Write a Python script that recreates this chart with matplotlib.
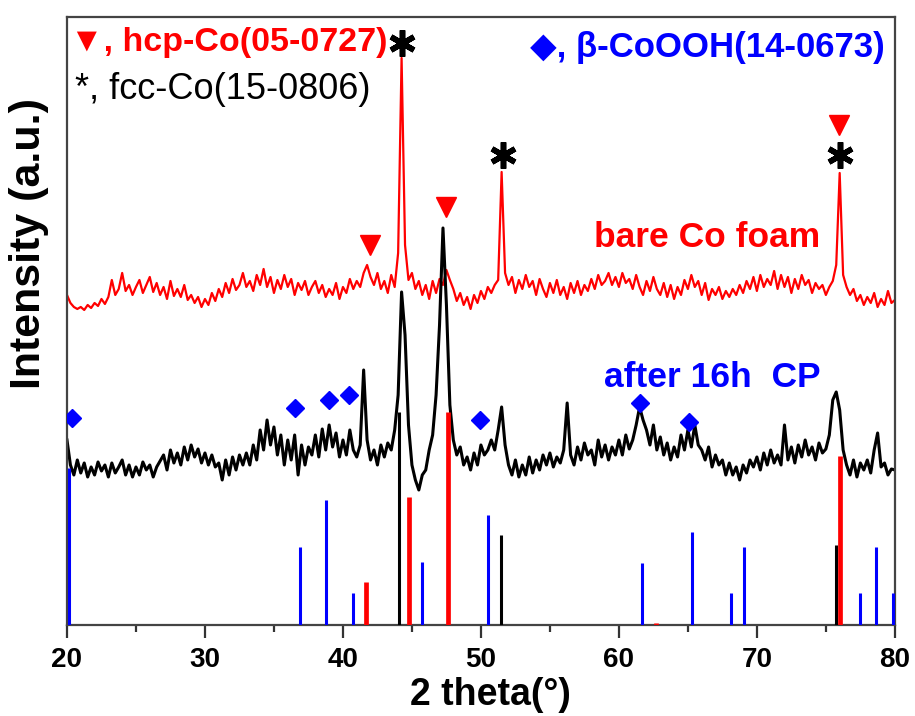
import matplotlib
matplotlib.use('Agg')
import numpy as np
import matplotlib.pyplot as plt

# 2 theta grid of the scans (0.25 deg steps, 20..80)
two_theta = np.arange(20, 80.001, 0.25)

# bare Co foam scan
bare_co = [
    330, 322, 318, 316, 318, 315, 320, 317, 322, 319, 326, 321,
    328, 345, 330, 336, 352, 334, 340, 330, 338, 345, 332, 340,
    348, 333, 342, 330, 338, 326, 344, 329, 336, 328, 340, 325,
    330, 322, 328, 318, 326, 320, 332, 324, 336, 328, 342, 332,
    346, 335, 340, 352, 338, 344, 334, 350, 340, 356, 338, 348,
    332, 345, 336, 350, 338, 346, 330, 342, 335, 344, 330, 338,
    344, 332, 340, 328, 336, 330, 342, 326, 338, 332, 346, 336,
    344, 338, 352, 360, 348, 340, 352, 336, 344, 332, 350, 338,
    372, 567, 380, 345, 352, 336, 344, 330, 340, 326, 344, 332,
    346, 340, 355, 345, 336, 324, 332, 320, 328, 316, 330, 322,
    334, 326, 338, 332, 340, 345, 453, 352, 340, 348, 332, 345,
    336, 350, 338, 344, 330, 346, 336, 328, 342, 332, 345, 330,
    338, 326, 342, 332, 344, 330, 340, 334, 346, 336, 350, 340,
    344, 352, 340, 348, 338, 352, 342, 346, 336, 350, 338, 330,
    344, 334, 348, 336, 330, 342, 328, 340, 326, 338, 330, 345,
    336, 350, 338, 344, 330, 342, 325, 336, 330, 338, 326, 334,
    328, 336, 330, 340, 332, 344, 336, 348, 334, 350, 338, 346,
    340, 354, 336, 350, 338, 348, 332, 346, 336, 350, 340, 345,
    332, 342, 336, 340, 330, 338, 344, 360, 452, 350, 338, 330,
    336, 324, 330, 320, 328, 322, 332, 318, 326, 320, 334, 322,
    325,
]

# after 16h CP scan
after_cp = [
    185, 160, 150, 165, 152, 162, 148, 158, 150, 163, 154, 160,
    148, 162, 152, 158, 165, 150, 160, 148, 158, 150, 163, 155,
    160, 148, 158, 164, 170, 155, 175, 162, 172, 160, 178, 165,
    180, 168, 176, 162, 172, 160, 170, 158, 162, 145, 165, 150,
    168, 155, 170, 160, 172, 160, 180, 165, 195, 175, 205, 180,
    198, 170, 190, 160, 185, 165, 190, 150, 180, 160, 178, 170,
    190, 168, 196, 175, 200, 178, 192, 168, 185, 170, 195, 175,
    168, 180, 255, 185, 165, 175, 160, 180, 168, 182, 175, 195,
    230, 333, 290, 200, 160, 145, 135, 150, 155, 175, 190, 230,
    300, 397, 320, 220, 185, 170, 178, 160, 168, 155, 172, 160,
    180, 170, 175, 185, 175, 195, 218, 180, 160, 150, 165, 148,
    160, 150, 168, 152, 165, 155, 170, 160, 172, 158, 168, 162,
    175, 222, 170, 160, 178, 165, 182, 170, 175, 160, 185, 168,
    180, 165, 178, 170, 185, 170, 190, 176, 185, 200, 218, 205,
    195, 180, 200, 175, 188, 170, 182, 165, 178, 168, 190, 175,
    195, 178, 200, 180, 175, 165, 178, 158, 170, 160, 165, 150,
    162, 150, 158, 145, 160, 152, 165, 158, 168, 155, 172, 160,
    175, 162, 170, 160, 200, 165, 178, 162, 180, 168, 185, 170,
    178, 165, 182, 172, 176, 190, 225, 233, 215, 175, 160, 150,
    165, 148, 162, 155, 165, 152, 175, 192, 158, 162, 150, 156,
    155,
]

# reference cards (stick patterns)
cooh_pos = [20.15, 36.9, 38.8, 40.75, 45.75, 50.5, 61.7, 65.3, 68.1, 69.1, 77.5, 78.6, 79.85]
cooh_h = [157, 78, 125, 32, 63, 110, 62, 93, 32, 78, 32, 78, 32]
hcp_pos = [41.7, 44.8, 47.6, 62.7, 76.0]
hcp_h = [43, 128, 213, 2, 169]
fcc_pos = [44.05, 51.45, 75.75]
fcc_h = [213, 90, 80]

# peak markers
tri_x = [41.95, 47.5, 75.95]
tri_y = [380, 418, 500]
star_x = [44.3, 51.6, 76.0]
star_y = [582, 470, 470]
dia_x = [20.35, 36.55, 39.0, 40.45, 49.95, 61.55, 65.1]
dia_y = [207, 217, 225, 230, 205, 222, 203]

plt.rcParams['font.family'] = ['Liberation Sans', 'DejaVu Sans']

fig = plt.figure(figsize=(9.15, 7.16), dpi=100)
ax = fig.add_axes([0.0732, 0.1271, 0.9048, 0.8492])

ax.plot(two_theta, bare_co, color='#ff0000', lw=1.6, zorder=2)
ax.plot(two_theta, after_cp, color='black', lw=2.2, zorder=2)

ax.vlines(cooh_pos, 0, cooh_h, colors='#0000ff', lw=2.2, zorder=3)
ax.vlines(fcc_pos, 0, fcc_h, colors='black', lw=2.2, zorder=3)
ax.vlines(hcp_pos, 0, hcp_h, colors='#ff0000', lw=3.4, zorder=3)

ax.plot(tri_x, tri_y, 'v', color='#ff0000', ms=14, ls='none', zorder=4)
ax.plot(star_x, star_y, marker=(6, 2, 0), color='black', ms=19, mew=4, ls='none', zorder=4)
ax.plot(dia_x, dia_y, 'D', color='#0000ff', ms=9, ls='none', zorder=4)

ax.text(20.2, 582, '\u25bc, hcp-Co(05-0727)', color='#ff0000', fontsize=24.5,
        fontweight='bold', va='center', ha='left')
ax.text(20.6, 535, '*, fcc-Co(15-0806)', color='black', fontsize=26,
        va='center', ha='left')
ax.text(79.3, 577, '\u25c6, \u03b2-CoOOH(14-0673)', color='#0000ff', fontsize=25,
        fontweight='bold', va='center', ha='right')
ax.text(74.6, 387, 'bare Co foam', color='#ff0000', fontsize=25.5,
        fontweight='bold', va='center', ha='right')
ax.text(74.6, 247, 'after 16h  CP', color='#0000ff', fontsize=25.5,
        fontweight='bold', va='center', ha='right')

ax.set_xlim(20, 80)
ax.set_ylim(0, 608)
ax.set_xticks([20, 30, 40, 50, 60, 70, 80])
ax.set_xticks([25, 35, 45, 55, 65, 75], minor=True)
ax.set_yticks([])
ax.tick_params(axis='x', which='major', direction='out', length=9, width=1.6,
               pad=7, labelsize=20, color='#333333')
ax.tick_params(axis='x', which='minor', direction='out', length=5, width=1.6,
               color='#333333')
for lab in ax.get_xticklabels():
    lab.set_fontweight('bold')
for sp in ax.spines.values():
    sp.set_color('#444444')
    sp.set_linewidth(1.6)

ax.set_xlabel('2 theta(\u00b0)', fontsize=27, fontweight='bold')
ax.xaxis.set_label_coords(0.511, -0.085)
ax.set_ylabel('Intensity (a.u.)', fontsize=31, fontweight='bold')
ax.yaxis.set_label_coords(-0.022, 0.627)

fig.savefig('out.png', dpi=100)
